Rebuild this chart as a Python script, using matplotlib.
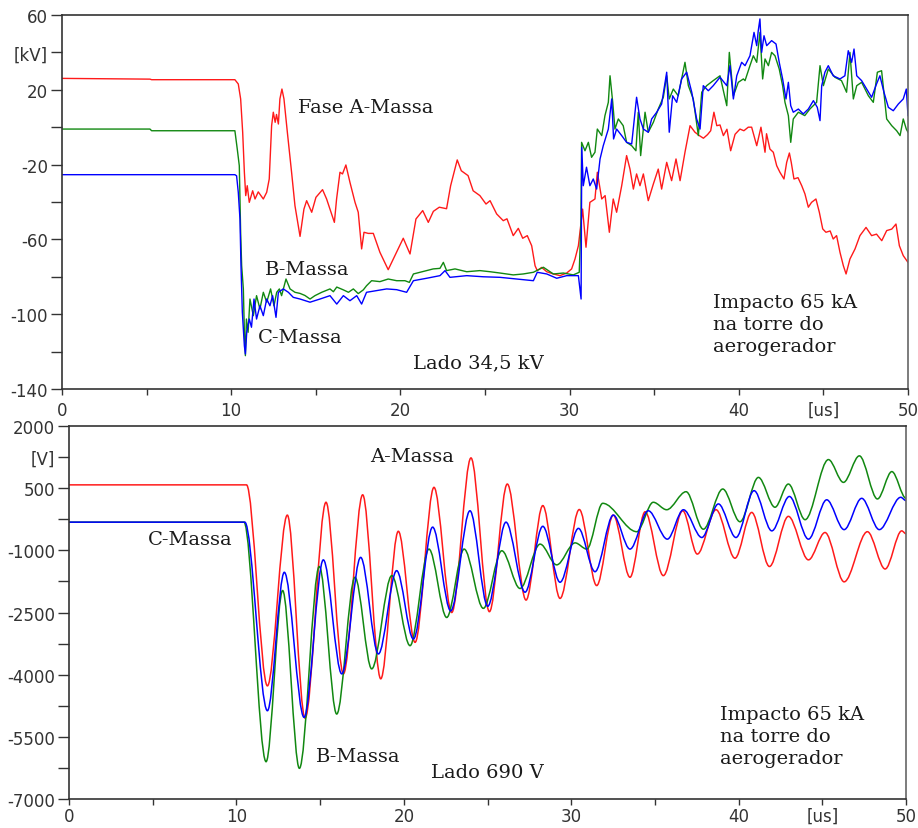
import matplotlib
matplotlib.use("Agg")
import matplotlib.pyplot as plt
from matplotlib.path import Path
from matplotlib.patches import PathPatch

# ---- top panel: Lado 34,5 kV  (t in us, v in kV)
t_a_top = [0, 5.2, 5.3, 10.22, 10.42, 10.56, 10.68, 10.78, 10.86, 10.95, 11.07, 11.27, 11.41, 11.6,
           11.9, 12.1, 12.25, 12.39, 12.49, 12.6, 12.68, 12.79, 12.88, 13.0, 13.12, 13.32, 13.57,
           13.77, 14.07, 14.3, 14.46, 14.76, 15.01, 15.4, 15.64, 15.84, 16.1, 16.23, 16.43, 16.58,
           16.78, 17.02, 17.32, 17.51, 17.71, 17.85, 18.1, 18.4, 18.79, 19.28, 19.68, 20.17, 20.57,
           20.92, 21.32, 21.65, 21.95, 22.3, 22.73, 22.97, 23.36, 23.6, 24.0, 24.3, 24.7, 25.06,
           25.3, 25.69, 26.08, 26.3, 26.67, 26.97, 27.23, 27.5, 27.76, 27.96, 28.09, 28.35, 28.65,
           29.04, 29.43, 29.83, 30.12, 30.32, 30.52, 30.77, 30.97, 31.2, 31.5, 31.64, 31.9, 32.1,
           32.35, 32.58, 32.78, 33.08, 33.37, 33.57, 33.77, 33.96, 34.16, 34.36, 34.65, 34.95,
           35.24, 35.44, 35.74, 36.03, 36.29, 36.53, 36.82, 37.12, 37.41, 37.67, 37.91, 38.15,
           38.34, 38.53, 38.7, 38.89, 39.09, 39.3, 39.52, 39.78, 40.07, 40.3, 40.56, 40.76, 41.06,
           41.31, 41.55, 41.64, 41.84, 42.04, 42.24, 42.43, 42.67, 42.83, 42.99, 43.1, 43.26, 43.5,
           43.72, 43.91, 44.11, 44.3, 44.56, 44.76, 44.96, 45.15, 45.4, 45.58, 45.78, 45.98, 46.18,
           46.34, 46.57, 46.87, 47.16, 47.52, 47.85, 48.14, 48.45, 48.74, 49.04, 49.29, 49.49,
           49.72, 50]
v_a_top = [26.1, 25.7, 25.4, 25.4, 23.1, 15.1, -2.7, -24.1, -36.6, -31.3, -40.2, -34.0, -38.4, -34.6,
           -38.4, -34.8, -27.7, 0.8, 8.0, 2.6, 6.8, 1.7, 15.1, 20.4, 15.1, -2.7, -24.1,
           -42.0, -58.4, -43.8, -39.3, -45.5, -37.5, -33.4, -38.4, -43.8, -50.9, -38.4, -24.1, -25.0,
           -20.2, -29.5, -40.2, -45.5, -65.1, -56.2, -56.8, -56.8, -66.9, -76.2, -68.7, -59.4, -67.8,
           -49.1, -44.6, -50.9, -45.0, -42.8, -43.6, -31.3, -17.5, -23.3, -25.9, -34.0, -36.6, -41.1,
           -39.3, -46.4, -50.0, -49.0, -58.0, -54.1, -59.4, -58.0, -63.4, -74.1, -76.7, -75.0, -77.3,
           -78.5, -79.4, -78.0, -75.8, -70.5, -63.4, -43.8, -64.2, -40.2, -38.4, -24.1, -38.4, -36.6,
           -56.2, -38.4, -45.5, -31.3, -15.2, -22.4, -33.1, -25.0, -31.3, -25.0, -39.3, -30.4,
           -22.4, -33.1, -18.8, -28.6, -17.0, -28.6, -13.4, 0.8, -2.7, -4.5, -5.9, -4.0,
           -1.9, 8.0, 0.8, 1.2, -4.5, -1.1, -12.6, -3.8, -1.0, -1.9, 0.0, 0.0, -9.9,
           0.0, -13.4, -3.5, -11.7, -13.4, -20.6, -24.1, -27.7, -18.8, -13.8, -18.8, -27.7, -27.0,
           -31.3, -35.7, -42.8, -40.2, -38.4, -45.5, -54.4, -56.2, -55.5, -59.8, -58.0, -66.9, -74.1,
           -78.5, -70.5, -65.1, -58.0, -53.6, -58.0, -57.2, -60.7, -55.3, -54.5, -51.8, -63.4,
           -68.7, -72.3]

t_b_top = [0, 5.2, 5.3, 10.22, 10.36, 10.48, 10.56, 10.62, 10.72, 10.78, 10.84, 10.9, 11.0, 11.11,
           11.31, 11.5, 11.7, 11.9, 12.1, 12.33, 12.53, 12.69, 12.85, 12.98, 13.24, 13.48, 13.77,
           14.07, 14.36, 14.66, 14.95, 15.35, 15.84, 16.04, 16.24, 16.63, 16.93, 17.22, 17.51,
           17.81, 18.0, 18.3, 18.79, 19.28, 19.78, 20.27, 20.53, 20.77, 21.16, 21.55, 21.94, 22.34,
           22.54, 22.73, 23.23, 23.92, 24.7, 25.3, 25.89, 26.67, 27.26, 27.86, 28.45, 29.04, 29.63,
           30.22, 30.57, 30.67, 30.71, 30.91, 31.11, 31.3, 31.5, 31.64, 31.9, 32.09, 32.29, 32.39,
           32.55, 32.68, 32.88, 33.17, 33.37, 33.67, 33.92, 34.06, 34.2, 34.46, 34.65, 34.95, 35.24,
           35.54, 35.74, 35.89, 36.13, 36.42, 36.82, 37.02, 37.31, 37.61, 37.81, 38.1, 38.49, 38.89,
           39.29, 39.44, 39.68, 39.97, 40.27, 40.37, 40.66, 40.86, 41.06, 41.25, 41.41, 41.55,
           41.75, 41.94, 42.14, 42.39, 42.59, 42.73, 42.93, 43.07, 43.22, 43.52, 43.9, 44.2, 44.6,
           44.8, 45.0, 45.29, 45.68, 46.07, 46.37, 46.57, 46.77, 46.97, 47.26, 47.66, 47.95, 48.19,
           48.44, 48.74, 49.04, 49.33, 49.53, 49.72, 49.9, 50]
v_b_top = [-1.0, -1.0, -1.9, -1.9, -11.7, -20.6, -56.2, -74.1, -86.5, -109.7, -122.2, -102.6, -109.7, -91.9,
           -100.8, -90.1, -97.2, -88.3, -93.6, -86.5, -95.5, -88.3, -86.5, -90.1, -81.2, -86.5, -88.3,
           -88.9, -90.0, -91.9, -90.1, -88.3, -86.5, -88.0, -85.5, -87.0, -88.3, -86.5, -89.0,
           -87.0, -84.8, -82.1, -82.6, -81.2, -82.1, -82.1, -83.0, -78.5, -77.6, -76.7, -75.8, -75.5,
           -72.3, -76.7, -75.8, -77.3, -76.7, -77.3, -78.0, -79.0, -78.5, -77.6, -74.9, -78.5, -78.0,
           -79.0, -77.6, -50.9, -8.1, -12.6, -8.1, -16.1, -13.4, -1.0, -4.5, 6.2, 13.3, 27.5,
           13.3, -1.0, 4.4, 0.8, -8.1, -9.9, -12.6, 8.0, -15.2, 8.0, -2.7, 2.6, 9.7,
           16.0, 27.5, 15.1, 20.4, 16.8, 34.7, 22.2, 15.1, -4.5, 18.7, 22.2, 24.9, 27.5,
           11.5, 40.0, 16.8, 24.0, 25.8, 24.9, 32.9, 38.2, 34.7, 50.7, 25.8, 36.5,
           32.9, 40.0, 38.2, 31.1, 22.2, 13.3, 6.2, -8.1, 4.4, 8.0, 6.2, 9.7, 13.3,
           32.9, 22.2, 31.1, 26.7, 24.9, 18.7, 40.0, 15.1, 22.2, 24.0, 16.8, 13.3, 29.4,
           30.2, 4.4, 0.8, -1.9, -4.5, 4.4, -1.0, -2.7]

t_c_top = [0, 10.22, 10.32, 10.42, 10.52, 10.58, 10.66, 10.78, 10.84, 10.92, 11.07, 11.2, 11.35, 11.5,
           11.7, 11.9, 12.1, 12.29, 12.45, 12.65, 12.79, 13.08, 13.38, 13.67, 14.07, 14.66, 15.25,
           15.84, 16.24, 16.63, 17.02, 17.42, 17.71, 18.0, 18.6, 19.19, 19.78, 20.37, 20.77, 21.55,
           22.34, 22.64, 22.93, 23.92, 24.9, 25.89, 26.87, 27.86, 28.09, 28.65, 29.24, 29.83, 30.52,
           30.68, 30.72, 30.81, 31.0, 31.2, 31.4, 31.6, 31.8, 31.99, 32.29, 32.49, 32.6, 32.78,
           33.08, 33.37, 33.67, 33.96, 34.16, 34.36, 34.65, 34.85, 35.15, 35.44, 35.74, 35.89, 36.09,
           36.33, 36.62, 36.92, 37.22, 37.51, 37.71, 37.9, 38.2, 38.49, 38.89, 39.29, 39.48, 39.68,
           39.88, 40.17, 40.37, 40.66, 40.9, 41.06, 41.15, 41.25, 41.35, 41.49, 41.65, 41.94, 42.2,
           42.39, 42.59, 42.79, 42.93, 43.07, 43.22, 43.52, 43.81, 44.11, 44.41, 44.64, 44.8, 44.9,
           45.09, 45.29, 45.58, 45.98, 46.27, 46.47, 46.67, 46.81, 46.97, 47.26, 47.56, 47.85, 48.14,
           48.34, 48.58, 48.84, 49.13, 49.43, 49.72, 49.9, 50]
v_c_top = [-25.4, -25.4, -26.0, -34.8, -49.1, -74.1, -99.0, -116.9, -121.3, -109.7, -102.6, -107.0, -91.9, -102.6,
           -95.5, -100.8, -91.9, -95.5, -90.1, -101.7, -88.3, -86.5, -88.3, -91.0, -91.9, -93.6, -91.9,
           -90.1, -94.6, -90.1, -92.8, -90.1, -94.6, -88.3, -87.4, -86.5, -86.9, -88.3, -82.1, -80.8,
           -79.4, -76.7, -80.3, -79.4, -80.0, -80.3, -81.2, -82.1, -77.6, -78.5, -80.8, -79.4, -79.4,
           -91.9, -10.8, -31.3, -21.4, -31.3, -27.7, -33.1, -17.0, -9.9, -1.0, 15.1, -6.3, -1.0,
           -4.5, -8.1, -9.0, 16.0, 4.4, -1.0, -2.7, 4.4, 8.0, 12.4, 29.4, -2.7, 16.8,
           13.3, 25.8, 29.4, 18.7, 4.4, -1.0, 22.2, 19.5, 22.2, 26.7, 22.2, 32.9, 15.1,
           27.5, 34.7, 32.9, 38.2, 50.7, 43.6, 51.6, 57.9, 40.0, 48.9, 43.6, 46.3, 44.5,
           34.7, 25.8, 15.1, 24.0, 11.5, 8.0, 9.7, 7.1, 9.7, 14.2, 10.6, 3.5, 22.2,
           29.4, 32.9, 27.5, 25.8, 27.5, 40.9, 34.7, 41.8, 27.5, 24.9, 20.4, 16.0, 23.1,
           27.5, 18.7, 10.6, 8.8, 12.4, 15.1, 20.4, 6.2]

# ---- bottom panel: Lado 690 V  (turning points of each trace, t in us, v in V)
t_a_bot = [0, 10.6, 11.85, 13.04, 14.1, 15.35, 16.39, 17.54, 18.62, 19.67, 20.67, 21.8, 22.86, 24.01,
           25.11, 26.18, 27.3, 28.3, 29.33, 30.48, 31.52, 32.51, 33.51, 34.41, 35.5, 36.66, 37.53,
           38.65, 39.78, 40.78, 41.84, 42.97, 44.17, 45.16, 46.3, 47.69, 48.75, 49.74, 50]
v_a_bot = [580, 580, -4270, -150, -5050, 160, -3980, 340, -4100, -540, -3220, 520, -2500, 1230,
           -2480, 600, -2200, 80, -2160, -15, -1850, -150, -1650, -70, -1610, -45, -1090,
           -20, -1190, -85, -1390, -180, -1230, -570, -1760, -550, -1450, -530, -600]

t_b_bot = [0, 10.45, 11.77, 12.76, 13.76, 14.95, 15.99, 17.08, 18.08, 19.28, 20.37, 21.5, 22.56, 23.6,
           24.75, 25.85, 26.94, 28.14, 29.13, 30.23, 30.93, 31.88, 33.91, 34.9, 35.7, 36.86, 37.89,
           39.05, 40.08, 41.18, 42.17, 42.97, 43.97, 45.36, 46.26, 47.21, 48.29, 49.15, 50]
v_b_bot = [-320, -320, -6100, -1970, -6260, -1390, -4950, -1650, -3860, -1610, -3300, -970, -2620, -970,
           -2400, -1010, -1920, -850, -1350, -820, -970, 135, -550, 160, -20, 415, -490,
           480, -310, 760, 40, 600, -260, 1190, 640, 1280, 240, 900, 255]

t_c_bot = [0, 10.5, 11.85, 12.86, 14.04, 15.19, 16.29, 17.42, 18.48, 19.57, 20.57, 21.72, 22.8, 23.95,
           25.01, 26.1, 27.24, 28.3, 29.33, 30.43, 31.42, 32.51, 33.51, 34.6, 35.74, 36.7, 37.8,
           38.79, 39.84, 40.92, 41.98, 43.03, 44.17, 45.26, 46.3, 47.35, 48.4, 49.68, 50]
v_c_bot = [-320, -320, -4870, -1530, -5030, -1230, -3980, -1170, -3500, -1490, -3140, -440, -2460, -45,
           -2350, -320, -2010, -420, -1770, -470, -1515, -150, -970, -45, -730, -20, -690,
           120, -690, 440, -530, 300, -730, 220, -500, 255, -500, 280, 200]

top_yticks = [60, 40, 20, 0, -20, -40, -60, -80, -100, -120, -140]
top_ylabels = ["60", "[kV]", "20", "", "-20", "", "-60", "", "-100", "", "-140"]
bot_yticks = [2000, 1250, 500, -250, -1000, -1750, -2500, -3250, -4000, -4750, -5500, -6250, -7000]
bot_ylabels = ["2000", "[V]", "500", "", "-1000", "", "-2500", "", "-4000", "", "-5500", "", "-7000"]
xticks = [0, 5, 10, 15, 20, 25, 30, 35, 40, 45, 50]
xlabels = ["0", "", "10", "", "20", "", "30", "", "40", "[us]", "50"]

RED, GREEN, BLUE = "#ff1a1a", "#118811", "#0000ff"
TXT = dict(family="DejaVu Serif", fontsize=14, color="#1a1a1a")


def smooth_path(ts, vs):
    # cubic segments with flat tangents at each turning point
    verts = [(ts[0], vs[0])]
    codes = [Path.MOVETO]
    for i in range(len(ts) - 1):
        dt = ts[i + 1] - ts[i]
        verts += [(ts[i] + dt / 3, vs[i]), (ts[i + 1] - dt / 3, vs[i + 1]), (ts[i + 1], vs[i + 1])]
        codes += [Path.CURVE4] * 3
    return Path(verts, codes)


def style(ax, yticks, ylabels, xpad):
    ax.set_xlim(0, 50)
    ax.set_ylim(yticks[-1], yticks[0])
    ax.set_xticks(xticks)
    ax.set_xticklabels(xlabels)
    ax.set_yticks(yticks)
    ax.set_yticklabels(ylabels)
    for s in ax.spines.values():
        s.set_color("#333333")
        s.set_linewidth(1.2)
    ax.spines["right"].set_color("#666666")
    ax.tick_params(axis="x", length=4.5, width=1, color="#333333", pad=xpad,
                   labelsize=12, labelcolor="#333333")
    ax.tick_params(axis="y", length=8, width=1, color="#333333", pad=2,
                   labelsize=12, labelcolor="#333333")


fig = plt.figure(figsize=(9.18, 8.29), dpi=100)

ax1 = fig.add_axes([0.0675, 0.5296, 0.9216, 0.4511])
ax1.plot(t_a_top, v_a_top, color=RED, lw=1.0)
ax1.plot(t_b_top, v_b_top, color=GREEN, lw=1.0)
ax1.plot(t_c_top, v_c_top, color=BLUE, lw=1.0)
style(ax1, top_yticks, top_ylabels, 4)
ax1.text(13.95, 10.8, "Fase A-Massa", va="center", **TXT)
ax1.text(12.0, -75.8, "B-Massa", va="center", **TXT)
ax1.text(11.6, -112.2, "C-Massa", va="center", **TXT)
ax1.text(20.75, -125.6, "Lado 34,5 kV", va="center", **TXT)
ax1.text(38.5, -88.5, "Impacto 65 kA\nna torre do\naerogerador", va="top", linespacing=1.3, **TXT)

ax2 = fig.add_axes([0.0752, 0.035, 0.9118, 0.4499])
for ts, vs, c in [(t_a_bot, v_a_bot, RED), (t_b_bot, v_b_bot, GREEN), (t_c_bot, v_c_bot, BLUE)]:
    ax2.add_patch(PathPatch(smooth_path(ts, vs), fill=False, edgecolor=c, lw=1.1))
style(ax2, bot_yticks, bot_ylabels, 1)
ax2.text(18.0, 1276, "A-Massa", va="center", **TXT)
ax2.text(4.7, -727, "C-Massa", va="center", **TXT)
ax2.text(14.75, -5963, "B-Massa", va="center", **TXT)
ax2.text(21.6, -6349, "Lado 690 V", va="center", **TXT)
ax2.text(38.9, -4730, "Impacto 65 kA\nna torre do\naerogerador", va="top", linespacing=1.3, **TXT)

fig.savefig("out.png", dpi=100)
